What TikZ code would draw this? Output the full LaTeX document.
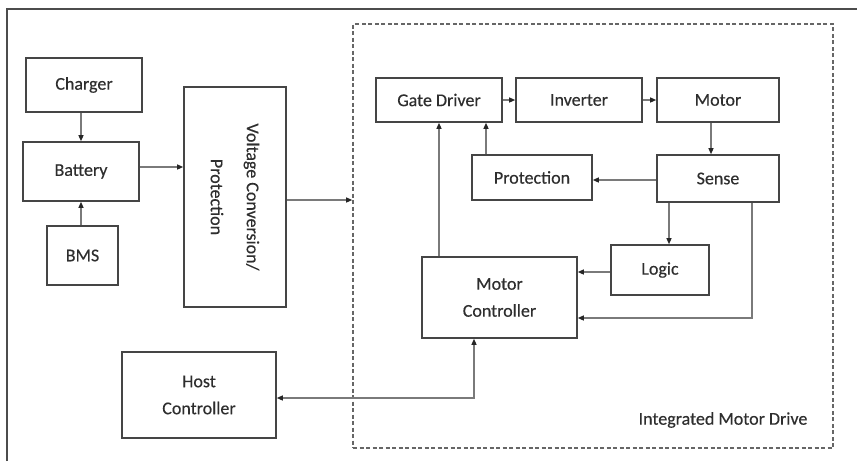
\documentclass[tikz,border=0pt]{standalone}
\usepackage{fontspec}
\setmainfont[FakeBold=0.4]{Carlito}
\usetikzlibrary{arrows.meta,calc}
\definecolor{boxline}{HTML}{454545}
\definecolor{conline}{HTML}{7A7A7A}
\definecolor{txt}{HTML}{2E2E2E}
\begin{document}
\begin{tikzpicture}[x=1pt,y=-1pt,
  blk/.style={draw=boxline,line width=1.6pt,rectangle,inner sep=0pt,align=center,
    font=\fontsize{18}{27}\selectfont,text=txt},
  con/.style={draw=conline,line width=1.2pt,-{Triangle[length=6pt,width=5pt,fill=black!85,color=black!85]}},
  bicon/.style={draw=conline,line width=1.2pt,{Triangle[length=6pt,width=5pt,fill=black!85,color=black!85]}-{Triangle[length=6pt,width=5pt,fill=black!85,color=black!85]}}]
\useasboundingbox (0,0) rectangle (857,461);
% outer frame
\draw[draw=black!70,line width=1.6pt] (7,461) -- (7,9) -- (857,9);
% integrated motor drive region
\node[draw=black!60,line width=1.6pt,dash pattern=on 4pt off 2.5pt,rectangle,minimum width=480pt,minimum height=424pt,inner sep=0pt] (imd) at (593,236) {};
\node[font=\fontsize{18}{20}\selectfont,text=txt] (imdlbl) at (723,420) {Integrated Motor Drive};
% left blocks
\node[blk,minimum width=116pt,minimum height=54pt] (charger) at (84,85) {Charger};
\node[blk,minimum width=116pt,minimum height=59pt] (battery) at (81,171.5) {Battery};
\node[blk,minimum width=71pt,minimum height=59pt] (bms) at (82.5,255.5) {BMS};
\node[blk,minimum width=102pt,minimum height=220pt] (volt) at (235,197) {};
\node[font=\fontsize{18}{36}\selectfont,text=txt,align=center,rotate=-90] (voltlbl) at (volt.center) {Voltage Conversion/\\Protection};
\node[blk,minimum width=154pt,minimum height=86pt] (host) at (199,395) {Host\\Controller};
% inner blocks
\node[blk,minimum width=126pt,minimum height=44pt] (gd) at (439,100) {Gate Driver};
\node[blk,minimum width=126pt,minimum height=44pt] (inv) at (579,100) {Inverter};
\node[blk,minimum width=122pt,minimum height=44pt] (motor) at (718,100) {Motor};
\node[blk,minimum width=120pt,minimum height=45pt] (prot) at (532,177.5) {Protection};
\node[blk,minimum width=122pt,minimum height=47pt] (sense) at (718,178.5) {Sense};
\node[blk,minimum width=98pt,minimum height=50pt] (logic) at (660,270) {Logic};
\node[blk,minimum width=155pt,minimum height=81pt] (mc) at (499.5,297.5) {Motor\\Controller};
% connectors
\draw[con] (battery.north |- charger.south) -- (battery.north);
\draw[con] (battery.south |- bms.north) -- (battery.south);
\draw[con] ([yshift=4.5pt]battery.east) -- ([yshift=4.5pt]battery.east -| volt.west);
\draw[con] ([yshift=-3pt]volt.east) -- ([yshift=-3pt]volt.east -| imd.west);
\draw[con] (gd.east) -- (inv.west);
\draw[con] (inv.east) -- (motor.west);
\draw[con] ([xshift=-7pt]motor.south) -- ([xshift=-7pt]sense.north);
\draw[con] ([yshift=-1.5pt]sense.west) -- ([yshift=-1.5pt]sense.west -| prot.east);
\draw[con] ([xshift=-46pt]prot.north) -- ([xshift=-46pt]prot.north |- gd.south);
\draw[con] (gd.south |- mc.north) -- (gd.south);
\draw[con] ([xshift=9pt]logic.north |- sense.south) -- ([xshift=9pt]logic.north);
\draw[con] ([yshift=-2pt]logic.west) -- ([yshift=-2pt]logic.west -| mc.east);
\draw[con] ([xshift=34pt]sense.south) |- ([yshift=-20.5pt]mc.east);
\draw[bicon] ([xshift=-25.5pt]mc.south) |- ([yshift=-3pt]host.east);
\end{tikzpicture}
\end{document}
